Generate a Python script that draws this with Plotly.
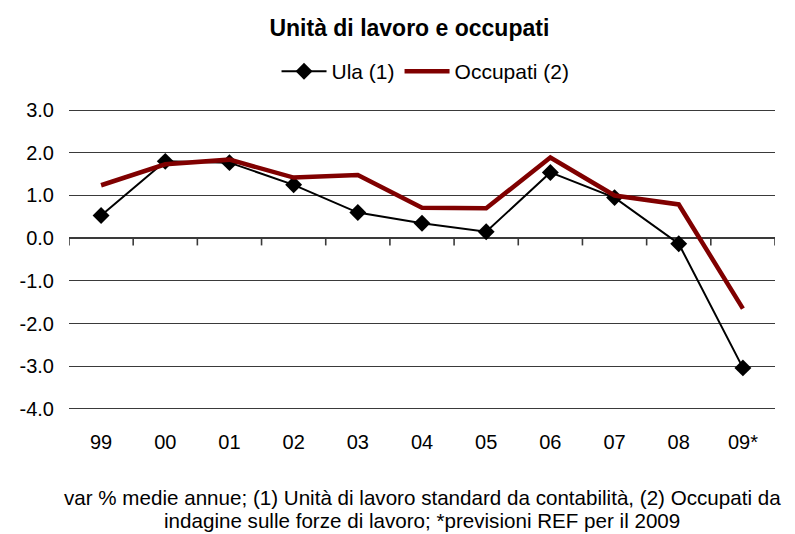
import plotly.graph_objects as go

categories = ["99", "00", "01", "02", "03", "04", "05", "06", "07", "08", "09*"]
ula = [0.53, 1.80, 1.77, 1.25, 0.60, 0.35, 0.15, 1.54, 0.95, -0.13, -3.04]
occupati = [1.24, 1.73, 1.84, 1.42, 1.48, 0.71, 0.70, 1.89, 1.00, 0.79, -1.65]
y_ticks = [3, 2, 1, 0, -1, -2, -3, -4]

FONT = "Liberation Sans, Arial, sans-serif"
xpos = list(range(len(categories)))
GRID = "#3a3a3a"

fig = go.Figure()

# category-boundary tick marks hanging from the zero line (drawn as one-sided error bars)
bounds = [i - 0.5 for i in range(len(categories) + 1)]
fig.add_trace(go.Scatter(
    x=bounds, y=[0] * len(bounds), mode="markers",
    marker=dict(size=1, color="rgba(0,0,0,0)"),
    error_y=dict(type="data", symmetric=False, array=[0] * len(bounds),
                 arrayminus=[0.17] * len(bounds), width=0, thickness=1.6, color=GRID),
    showlegend=False, hoverinfo="skip", cliponaxis=False,
))

fig.add_trace(go.Scatter(
    x=xpos, y=ula, name="Ula (1)", mode="lines+markers",
    line=dict(color="black", width=2),
    marker=dict(symbol="diamond", size=13, color="black"),
))
fig.add_trace(go.Scatter(
    x=xpos, y=occupati, name="Occupati (2)", mode="lines",
    line=dict(color="#800000", width=4.5),
))

ymin, ymax = -4, 3
pad = 0.05
fig.update_layout(
    width=787, height=526,
    paper_bgcolor="white", plot_bgcolor="white",
    margin=dict(l=55, r=20, t=100, b=123),
    font=dict(family=FONT, size=20, color="black"),
    title=dict(text="<b>Unità di lavoro e occupati</b>", x=0.51, xanchor="center",
               y=0.962, yanchor="middle", font=dict(size=23)),
    showlegend=True,
    legend=dict(orientation="h", x=0.505, xanchor="center", y=1.12, yanchor="middle",
                font=dict(size=21), itemwidth=45, tracegroupgap=0),
    xaxis=dict(type="linear", range=[-0.5, len(categories) - 0.5],
               tickvals=xpos, ticktext=categories,
               showgrid=False, showline=False, zeroline=False,
               ticks="", ticklabelstandoff=17, tickfont=dict(size=20)),
    yaxis=dict(range=[ymin - pad, ymax + pad], tickvals=y_ticks,
               ticktext=[f"{v:.1f}" for v in y_ticks],
               showgrid=True, gridcolor=GRID, gridwidth=1,
               zeroline=True, zerolinecolor=GRID, zerolinewidth=1.5,
               showline=False, ticks="",
               ticklabelstandoff=14, tickfont=dict(size=20)),
)

fig.add_annotation(
    text="var % medie annue; (1) Unità di lavoro standard da contabilità, (2) Occupati da",
    xref="paper", yref="paper", x=0.5, y=-0.284, xanchor="center", yanchor="middle",
    showarrow=False, font=dict(size=20.6),
)
fig.add_annotation(
    text="indagine sulle forze di lavoro; *previsioni REF per il 2009",
    xref="paper", yref="paper", x=0.5, y=-0.363, xanchor="center", yanchor="middle",
    showarrow=False, font=dict(size=20.6),
)

fig.write_html("out.html")
